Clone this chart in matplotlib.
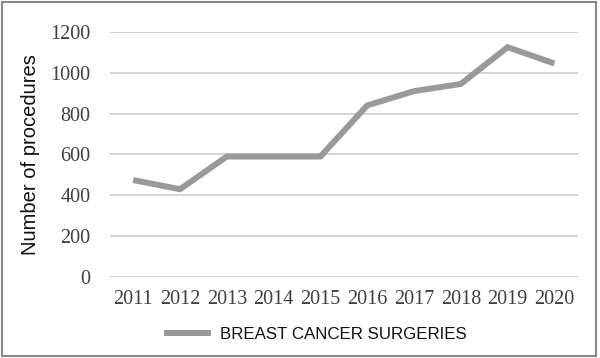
import numpy as np
import matplotlib.pyplot as plt

years = ['2011', '2012', '2013', '2014', '2015', '2016', '2017', '2018', '2019', '2020']
surgeries = [475, 430, 590, 590, 590, 840, 910, 945, 1125, 1045]
yticks = [0, 200, 400, 600, 800, 1000, 1200]

fig = plt.figure(figsize=(6, 3.58), dpi=100)
ax = fig.add_axes([0.183, 0.226, 0.78, 0.685])

x = np.arange(len(years))
ax.plot(x, surgeries, color='#999999', lw=4.3, solid_capstyle='butt',
        solid_joinstyle='miter', label='BREAST CANCER SURGERIES')

ax.set_xlim(-0.5, len(years) - 0.5)
ax.set_ylim(0, 1200)
ax.set_yticks(yticks)
ax.set_xticks(x)
ax.set_xticklabels(years)
ax.grid(axis='y', color='#cccccc', lw=1.2)
ax.set_axisbelow(True)
for s in ax.spines.values():
    s.set_visible(False)
ax.tick_params(length=0, labelsize=14.5, labelcolor='#404040')
for lab in ax.get_xticklabels() + ax.get_yticklabels():
    lab.set_family('Liberation Serif')
ax.tick_params(axis='x', pad=9)
ax.tick_params(axis='y', pad=14)

ax.set_ylabel('Number of procedures', family='Liberation Sans', fontsize=14.5,
              labelpad=7, color='#111111')

leg = fig.legend(loc='center', bbox_to_anchor=(0.525, 0.065), frameon=False,
                 prop={'family': 'Liberation Sans', 'size': 12.2}, handlelength=2.8,
                 handletextpad=0.5)
for t in leg.get_texts():
    t.set_color('#111111')

# outer frame
fig.patches.append(plt.Rectangle((0.004, 0.006), 0.99, 0.988, transform=fig.transFigure,
                                 fill=False, edgecolor='#888888', lw=1.5))

fig.savefig('out.png', dpi=100)
